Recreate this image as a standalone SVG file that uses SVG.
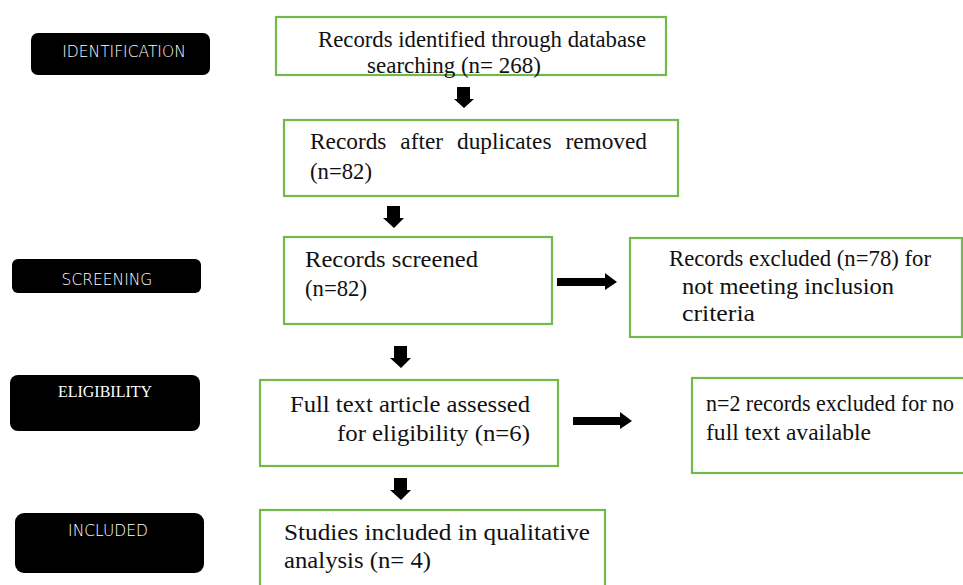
<svg xmlns="http://www.w3.org/2000/svg" width="963" height="585" viewBox="0 0 963 585">
<style>
.lab{fill:#000}
.lt{fill:#fff;font-family:"DejaVu Sans",sans-serif;font-size:15.5px;text-anchor:middle;font-weight:300}
.lts{fill:#fff;font-family:"Liberation Serif","Times New Roman",serif;font-size:16px;text-anchor:middle}
.box{fill:#fff;stroke:#72b84a;stroke-width:2.2}
.t{font-family:"Liberation Serif","Times New Roman",serif;font-size:23px;fill:#111}
.arr{fill:#000}
</style>
<rect width="963" height="585" fill="#fff"/>
<g id="stage-identification"><rect class="lab" x="31" y="33" width="179" height="42" rx="7"/><text class="lt" x="124" y="57">IDENTIFICATION</text></g>
<g id="stage-screening"><rect class="lab" x="12" y="259" width="189" height="34" rx="6"/><text class="lt" x="107" y="285">SCREENING</text></g>
<g id="stage-eligibility"><rect class="lab" x="10" y="375" width="190" height="56" rx="8"/><text class="lts" x="105" y="397">ELIGIBILITY</text></g>
<g id="stage-included"><rect class="lab" x="15" y="513" width="189" height="60" rx="9"/><text class="lt" x="108" y="536">INCLUDED</text></g>
<g id="n1"><rect class="box" x="276" y="17" width="390" height="58"/><text class="t" x="318" y="47" textLength="328" lengthAdjust="spacingAndGlyphs">Records identified through database</text><text class="t" x="367" y="73" textLength="174" lengthAdjust="spacingAndGlyphs">searching (n= 268)</text></g>
<g id="n2"><rect class="box" x="284" y="120" width="394" height="76"/><text class="t" x="310" y="149" textLength="337" lengthAdjust="spacingAndGlyphs" word-spacing="8">Records after duplicates removed</text><text class="t" x="310" y="179" textLength="62" lengthAdjust="spacingAndGlyphs">(n=82)</text></g>
<g id="n3"><rect class="box" x="284" y="237" width="268" height="87"/><text class="t" x="305" y="267" textLength="173" lengthAdjust="spacingAndGlyphs">Records  screened</text><text class="t" x="305" y="296" textLength="62" lengthAdjust="spacingAndGlyphs">(n=82)</text></g>
<g id="n4"><rect class="box" x="630" y="238" width="332" height="99"/><text class="t" x="669" y="266" textLength="262" lengthAdjust="spacingAndGlyphs">Records excluded (n=78) for</text><text class="t" x="682" y="294" textLength="212" lengthAdjust="spacingAndGlyphs">not  meeting  inclusion</text><text class="t" x="682" y="321" textLength="73" lengthAdjust="spacingAndGlyphs">criteria</text></g>
<g id="n5"><rect class="box" x="260" y="380" width="298" height="86"/><text class="t" x="290" y="412" textLength="240" lengthAdjust="spacingAndGlyphs">Full text  article  assessed</text><text class="t" x="337" y="441" textLength="193" lengthAdjust="spacingAndGlyphs">for  eligibility  (n=6)</text></g>
<g id="n6"><rect class="box" x="692" y="378" width="280" height="95"/><text class="t" x="706" y="411" textLength="248" lengthAdjust="spacingAndGlyphs">n=2 records excluded for no</text><text class="t" x="706" y="440" textLength="165" lengthAdjust="spacingAndGlyphs">full text  available</text></g>
<g id="n7"><rect class="box" x="260" y="510" width="345" height="85"/><text class="t" x="284" y="540" textLength="306" lengthAdjust="spacingAndGlyphs">Studies  included  in  qualitative</text><text class="t" x="284" y="568" textLength="147" lengthAdjust="spacingAndGlyphs">analysis  (n=  4)</text></g>
<g id="connectors">
<path class="arr" d="M457 87 H470 V99 H474 L464 108 L454 99 H457 Z"/>
<path class="arr" d="M387 206 H400 V218 H404 L394 228 L383 218 H387 Z"/>
<path class="arr" d="M557 278 H605 V273 L617 282 L605 290 V286 H557 Z"/>
<path class="arr" d="M394 346 H407 V358 H411 L401 368 L390 358 H394 Z"/>
<path class="arr" d="M573 417 H620 V412 L632 421 L620 429 V425 H573 Z"/>
<path class="arr" d="M394 478 H407 V490 H411 L401 500 L390 490 H394 Z"/>
</g>
</svg>
